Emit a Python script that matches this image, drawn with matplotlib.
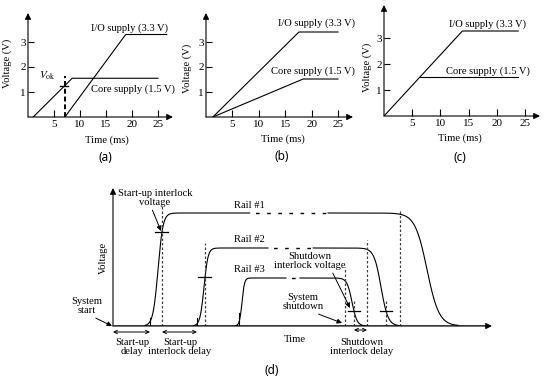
import numpy as np
import matplotlib.pyplot as plt

plt.rcParams['font.family'] = ['Liberation Serif', 'DejaVu Serif']
plt.rcParams['mathtext.fontset'] = 'stix'

W, H = 546, 381

# panel (a): core ramps first, I/O starts once core passes V_ok
a_core_t = [1.0, 8.5, 25.0]
a_core_v = [0.0, 1.55, 1.55]
a_io_t = [7.1, 18.8, 26.7]
a_io_v = [0.0, 3.3, 3.3]
a_vok_t = 7.1
a_vok_v = 1.25

# panel (b): both start together
b_io_t = [1.3, 17.6, 25.0]
b_io_v = [0.0, 3.4, 3.4]
b_core_t = [1.3, 18.4, 25.0]
b_core_v = [0.0, 1.52, 1.52]

# panel (c): core tracks I/O up to 1.5 V
c_io_t = [0.0, 13.9, 23.8]
c_io_v = [0.0, 3.27, 3.27]
c_core_t = [6.4, 23.8]
c_core_v = [1.5, 1.5]

time_ticks = [5, 10, 15, 20, 25]
volt_ticks = [1, 2, 3]

# panel (d): sequenced rails (arbitrary time / voltage units)
rail_names = ['Rail #1', 'Rail #2', 'Rail #3']
rail_level = [113, 78, 48]
rise_mid = [45, 91, 129]
rise_w = [5, 4, 2.5]
fall_mid = [314, 268, 239]
fall_w = [12, 7, 5]
dash_from = [137, 155, 173]
dash_to = [215, 200, 187]
startup_mark = [49, 92, None]
startup_line_top = [121, 83, None]
shutdown_line = [287, 254, 232]
shutdown_line_top = [116, 86, 59]
shutdown_mark = [None, 273, 241]

fig = plt.figure(figsize=(W / 100, H / 100), dpi=100)


def axis_arrows(ax, xmax, ymax, xcolor='k', xlw=0.8):
    for s in ax.spines.values():
        s.set_visible(False)
    ax.annotate('', xy=(xmax, 0), xytext=(0, 0), annotation_clip=False,
                arrowprops=dict(arrowstyle='-|>', color=xcolor, lw=xlw,
                                mutation_scale=9, shrinkA=0, shrinkB=0))
    ax.annotate('', xy=(0, ymax), xytext=(0, 0), annotation_clip=False,
                arrowprops=dict(arrowstyle='-|>', color='k', lw=0.8,
                                mutation_scale=9, shrinkA=0, shrinkB=0))


def small_panel(pos, xmax, ymax):
    ax = fig.add_axes(pos)
    ax.set_xlim(0, xmax)
    ax.set_ylim(0, ymax)
    ax.patch.set_visible(False)
    axis_arrows(ax, xmax, ymax)
    ax.set_xticks(time_ticks)
    ax.set_yticks(volt_ticks)
    ax.tick_params(direction='in', length=5, width=0.8, labelsize=8, pad=2)
    ax.tick_params(axis='y', length=4, pad=1.5)
    return ax


lw = 0.8
fs = 7.6

# ---- (a)
ax = small_panel([28 / W, 1 - 117 / H, 145 / W, 104 / H], 27.9, 4.16)
ax.plot(a_core_t, a_core_v, 'k', lw=lw)
ax.plot(a_io_t, a_io_v, 'k', lw=lw)
ax.plot([a_vok_t, a_vok_t], [0, 1.64], color='k', lw=1.4, ls=(0, (2.5, 1.5)))
ax.plot([a_vok_t - 1.0, a_vok_t + 0.6], [a_vok_v, a_vok_v], 'k', lw=1.0)
ax.text(3.8, 1.64, r'$V_{\rm ok}$', fontsize=8, ha='center', va='center')
ax.text(19.6, 3.56, 'I/O supply (3.3 V)', fontsize=fs, ha='center', va='center')
ax.text(20.2, 1.12, 'Core supply (1.5 V)', fontsize=fs, ha='center', va='center')
ax.text(15.2, -0.92, 'Time (ms)', fontsize=fs, ha='center', va='center')
ax.text(-4.0, 2.16, 'Voltage (V)', fontsize=fs, ha='center', va='center', rotation=90)
ax.text(14.8, -1.62, '(a)', fontsize=8.5, ha='center', va='center', family='Noto Sans')

# ---- (b)
ax = small_panel([206 / W, 1 - 117 / H, 147 / W, 104 / H], 27.84, 4.16)
ax.plot(b_io_t, b_io_v, 'k', lw=lw)
ax.plot(b_core_t, b_core_v, 'k', lw=lw)
ax.text(21.0, 3.76, 'I/O supply (3.3 V)', fontsize=fs, ha='center', va='center')
ax.text(20.3, 1.84, 'Core supply (1.5 V)', fontsize=fs, ha='center', va='center')
ax.text(14.6, -0.88, 'Time (ms)', fontsize=fs, ha='center', va='center')
ax.text(-3.6, 1.96, 'Voltage (V)', fontsize=fs, ha='center', va='center', rotation=90)
ax.text(14.4, -1.58, '(b)', fontsize=8.5, ha='center', va='center', family='Noto Sans')

# ---- (c)
ax = small_panel([384 / W, 1 - 116 / H, 156 / W, 111 / H], 27.66, 4.27)
ax.plot(c_io_t, c_io_v, 'k', lw=lw)
ax.plot(c_core_t, c_core_v, 'k', lw=lw)
ax.text(18.3, 3.54, 'I/O supply (3.3 V)', fontsize=fs, ha='center', va='center')
ax.text(18.4, 1.73, 'Core supply (1.5 V)', fontsize=fs, ha='center', va='center')
ax.text(13.5, -0.85, 'Time (ms)', fontsize=fs, ha='center', va='center')
ax.text(-3.0, 1.88, 'Voltage (V)', fontsize=fs, ha='center', va='center', rotation=90)
ax.text(13.5, -1.6, '(c)', fontsize=8.5, ha='center', va='center', family='Noto Sans')

# ---- (d)
ax = fig.add_axes([113 / W, 1 - 326 / H, 379 / W, 138 / H])
ax.set_xlim(0, 379)
ax.set_ylim(0, 138)
ax.patch.set_visible(False)
ax.set_xticks([])
ax.set_yticks([])
ax.plot([0, 372], [0, 0], color='0.45', lw=2.0, solid_capstyle='butt', zorder=1)
axis_arrows(ax, 379, 138)


def rail(x, i):
    up = 0.5 * (1 + np.tanh((x - rise_mid[i]) / rise_w[i]))
    down = 0.5 * (1 - np.tanh((x - fall_mid[i]) / fall_w[i]))
    return rail_level[i] * up * down


vdash = dict(color='0.25', lw=0.9, ls=(0, (2, 1.6)))
for i in range(3):
    x0 = rise_mid[i] - 2.6 * rise_w[i]
    x1 = fall_mid[i] + 2.6 * fall_w[i]
    x = np.linspace(x0, x1, 800)
    y = rail(x, i)
    a = x <= dash_from[i]
    b = x >= dash_to[i]
    ax.plot(x[a], y[a], 'k', lw=lw)
    ax.plot(x[b], y[b], 'k', lw=lw)
    ax.plot([dash_from[i], dash_to[i]], [rail_level[i]] * 2, 'k', lw=1.0,
            ls=(4, (2.6, 5.4)))
    ax.text(136, rail_level[i] + 8, rail_names[i], fontsize=fs, ha='center', va='center')
    if startup_mark[i] is not None:
        ax.plot([startup_mark[i]] * 2, [0, startup_line_top[i]], **vdash)
        h = rail(startup_mark[i], i)
        ax.plot([startup_mark[i] - 6.5, startup_mark[i] + 6.5], [h, h], 'k', lw=0.9)
    ax.plot([shutdown_line[i]] * 2, [0, shutdown_line_top[i]], **vdash)
    if shutdown_mark[i] is not None:
        h = rail(shutdown_mark[i], i)
        ax.plot([shutdown_mark[i]] * 2, [0, h + 12], **vdash)
        ax.plot([shutdown_mark[i] - 6, shutdown_mark[i] + 6], [h, h], 'k', lw=0.9)

# start tick marks on the time axis
for xt, lo, hi in [(37, -3, 8), (84, -3, 8), (126, -7, 13)]:
    ax.plot([xt, xt], [lo, hi], 'k', lw=0.8)

dbl = dict(arrowstyle='<->', lw=0.7, mutation_scale=6, shrinkA=0, shrinkB=0, color='k')
ax.annotate('', xy=(0, -6), xytext=(37, -6), arrowprops=dbl, annotation_clip=False)
ax.annotate('', xy=(49, -6), xytext=(84, -6), arrowprops=dbl, annotation_clip=False)
ax.annotate('', xy=(241, -4), xytext=(254, -4), arrowprops=dbl, annotation_clip=False)

pt = dict(arrowstyle='-|>', lw=0.7, mutation_scale=7, shrinkA=0, shrinkB=0, color='k')
ax.annotate('Start-up interlock\nvoltage', xy=(48, 95), xytext=(42, 128),
            fontsize=fs, ha='center', va='center', linespacing=1.1,
            arrowprops=dict(pt, relpos=(0.45, 0.0)), annotation_clip=False)
ax.annotate('System\nstart', xy=(-1, 0), xytext=(-26, 20), fontsize=fs,
            ha='center', va='center', linespacing=1.1,
            arrowprops=dict(pt, relpos=(0.6, 0.0)), annotation_clip=False)
ax.annotate('Shutdown\ninterlock voltage', xy=(237, 18), xytext=(197, 65),
            fontsize=fs, ha='center', va='center', linespacing=1.1,
            arrowprops=dict(pt, relpos=(0.8, 0.0)), annotation_clip=False)
ax.annotate('System\nshutdown', xy=(229, 3), xytext=(190, 24), fontsize=fs,
            ha='center', va='center', linespacing=1.1,
            arrowprops=dict(pt, relpos=(0.7, 0.0)), annotation_clip=False)

ax.text(-10, 68, 'Voltage', fontsize=fs, ha='center', va='center', rotation=90)
ax.text(19, -21, 'Start-up\ndelay', fontsize=fs, ha='center', va='center', linespacing=1.1)
ax.text(67, -21, 'Start-up\ninterlock delay', fontsize=fs, ha='center', va='center', linespacing=1.1)
ax.text(182, -14, 'Time', fontsize=fs, ha='center', va='center')
ax.text(249, -21, 'Shutdown\ninterlock delay', fontsize=fs, ha='center', va='center', linespacing=1.1)
ax.text(159, -44, '(d)', fontsize=8.5, ha='center', va='center', family='Noto Sans')

fig.savefig('out.png', dpi=100)
